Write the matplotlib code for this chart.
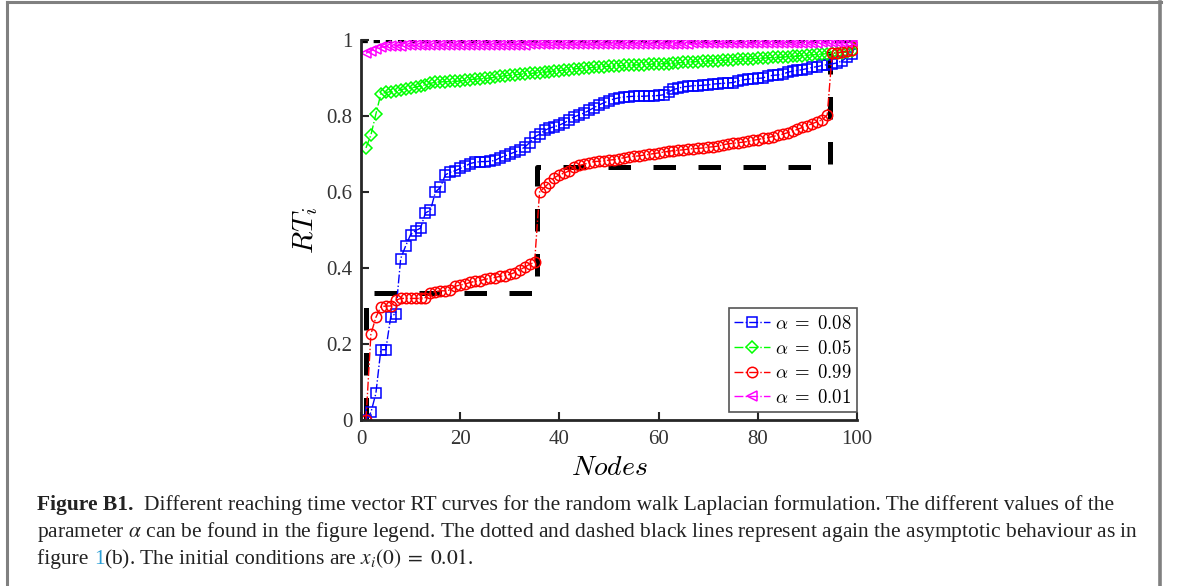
import numpy as np
import matplotlib.pyplot as plt
from matplotlib.lines import Line2D

nodes = np.arange(1, 101)

rt_008 = [0.0, 0.02, 0.07, 0.185, 0.185, 0.272, 0.28, 0.425, 0.458, 0.488,
          0.498, 0.505, 0.545, 0.552, 0.6, 0.612, 0.645, 0.652, 0.656, 0.662,
          0.668, 0.675, 0.678, 0.68, 0.68, 0.681, 0.683, 0.69, 0.695, 0.7,
          0.705, 0.71, 0.718, 0.73, 0.745, 0.752, 0.762, 0.768, 0.772, 0.776,
          0.782, 0.79, 0.798, 0.803, 0.808, 0.815, 0.822, 0.829, 0.835, 0.84,
          0.845, 0.848, 0.85, 0.851, 0.852, 0.852, 0.852, 0.853, 0.853, 0.854,
          0.856, 0.863, 0.87, 0.873, 0.877, 0.878, 0.88, 0.88, 0.881, 0.882,
          0.884, 0.885, 0.886, 0.887, 0.888, 0.892, 0.895, 0.897, 0.898, 0.899,
          0.9, 0.905, 0.907, 0.908, 0.91, 0.915, 0.918, 0.92, 0.922, 0.925,
          0.928, 0.93, 0.933, 0.935, 0.937, 0.94, 0.945, 0.955, 0.962, 1.0]

rt_005 = [0.716, 0.75, 0.805, 0.858, 0.862, 0.864, 0.866, 0.869, 0.872, 0.874,
          0.876, 0.879, 0.882, 0.886, 0.889, 0.89, 0.89, 0.891, 0.891, 0.892,
          0.894, 0.896, 0.897, 0.898, 0.899, 0.9, 0.902, 0.904, 0.906, 0.907,
          0.908, 0.91, 0.911, 0.912, 0.913, 0.914, 0.915, 0.917, 0.918, 0.919,
          0.921, 0.922, 0.924, 0.925, 0.926, 0.927, 0.928, 0.929, 0.93, 0.931,
          0.932, 0.932, 0.933, 0.934, 0.934, 0.935, 0.935, 0.936, 0.937, 0.937,
          0.938, 0.938, 0.939, 0.94, 0.941, 0.942, 0.943, 0.943, 0.944, 0.945,
          0.945, 0.946, 0.947, 0.947, 0.948, 0.949, 0.95, 0.95, 0.951, 0.952,
          0.952, 0.953, 0.954, 0.954, 0.955, 0.956, 0.957, 0.958, 0.959, 0.96,
          0.961, 0.962, 0.963, 0.964, 0.965, 0.966, 0.967, 0.968, 0.97, 1.0]

rt_099 = [0.0, 0.226, 0.27, 0.298, 0.3, 0.3, 0.315, 0.32, 0.32, 0.32,
          0.32, 0.32, 0.322, 0.335, 0.338, 0.34, 0.34, 0.342, 0.352, 0.355,
          0.358, 0.362, 0.365, 0.367, 0.37, 0.373, 0.375, 0.378, 0.38, 0.383,
          0.388, 0.395, 0.402, 0.41, 0.415, 0.6, 0.612, 0.625, 0.638, 0.645,
          0.65, 0.656, 0.665, 0.67, 0.673, 0.677, 0.68, 0.681, 0.682, 0.684,
          0.685, 0.688, 0.69, 0.693, 0.694, 0.695, 0.697, 0.699, 0.701, 0.703,
          0.705, 0.707, 0.709, 0.71, 0.711, 0.713, 0.714, 0.715, 0.716, 0.718,
          0.719, 0.721, 0.724, 0.727, 0.728, 0.73, 0.731, 0.733, 0.736, 0.738,
          0.741, 0.743, 0.746, 0.749, 0.752, 0.756, 0.76, 0.765, 0.77, 0.775,
          0.78, 0.785, 0.79, 0.803, 0.965, 0.967, 0.968, 0.97, 0.975, 1.0]

rt_001 = [0.965, 0.972, 0.977, 0.981, 0.983, 0.984, 0.985, 0.985, 0.986, 0.986,
          0.986, 0.986, 0.986, 0.987, 0.987, 0.987, 0.987, 0.987, 0.987, 0.987,
          0.987, 0.988, 0.988, 0.988, 0.988, 0.988, 0.988, 0.988, 0.988, 0.988,
          0.988, 0.988, 0.988, 0.989, 0.989, 0.989, 0.989, 0.989, 0.989, 0.989,
          0.989, 0.989, 0.989, 0.989, 0.989, 0.989, 0.989, 0.989, 0.989, 0.99,
          0.99, 0.99, 0.99, 0.99, 0.99, 0.99, 0.99, 0.99, 0.99, 0.99,
          0.99, 0.99, 0.99, 0.99, 0.99, 0.99, 0.991, 0.991, 0.991, 0.991,
          0.991, 0.991, 0.991, 0.991, 0.991, 0.991, 0.991, 0.991, 0.992, 0.992,
          0.992, 0.992, 0.992, 0.992, 0.992, 0.992, 0.992, 0.992, 0.993, 0.993,
          0.993, 0.993, 0.994, 0.994, 0.994, 0.995, 0.995, 0.996, 0.997, 1.0]

# asymptotic behaviour (black reference lines)
dash_x = [1, 1, 35.5, 35.5, 94.5, 94.5, 100]
dash_y = [0, 1/3, 1/3, 2/3, 2/3, 1, 1]
dot_x = [0, 100]
dot_y = [1, 1]

series = [(rt_008, 'b', 's', r'$\alpha\;=\;0.08$'),
          (rt_005, '#00ff00', 'D', r'$\alpha\;=\;0.05$'),
          (rt_099, 'r', 'o', r'$\alpha\;=\;0.99$'),
          (rt_001, '#ff00ff', '<', r'$\alpha\;=\;0.01$')]

xticks = [0, 20, 40, 60, 80, 100]
yticks = [0, 0.2, 0.4, 0.6, 0.8, 1]
ytick_labels = ['0', '0.2', '0.4', '0.6', '0.8', '1']

plt.rcParams['mathtext.fontset'] = 'cm'

W, H = 1179, 586
fig = plt.figure(figsize=(W / 100, H / 100), dpi=100)
ax = fig.add_axes([361 / W, 1 - 420 / H, 496 / W, 380 / H])

ax.plot(dot_x, dot_y, color='k', lw=3.8, dashes=(1.2, 1.1), zorder=1)
ax.plot(dash_x, dash_y, color='k', lw=3.6, dashes=(4.5, 4.5), zorder=1)

for vals, col, mk, lab in series:
    ms = 7.5 if mk != 'D' else 6
    ax.plot(nodes, vals, linestyle='-.', color=col, lw=1, marker=mk,
            markersize=ms, markerfacecolor='none', markeredgewidth=1.1,
            label=lab, zorder=2)

ax.set_xlim(0, 100)
ax.set_ylim(0, 1)
ax.set_xticks(xticks)
ax.set_yticks(yticks)
ax.set_yticklabels(ytick_labels)
for s in ['top', 'right']:
    ax.spines[s].set_visible(False)
for s in ['left', 'bottom']:
    ax.spines[s].set_linewidth(2)
    ax.spines[s].set_color('#262626')
ax.tick_params(direction='in', length=6, width=1.5, labelsize=15,
               colors='#262626')
ax.tick_params(axis='x', pad=7)
ax.tick_params(axis='y', pad=6)
for lbl in ax.get_xticklabels() + ax.get_yticklabels():
    lbl.set_fontfamily('Liberation Serif')
    lbl.set_color('#333333')

ax.set_xlabel(r'$Nodes$', fontsize=20, labelpad=3)
ax.set_ylabel(r'$RT_i$', fontsize=21, labelpad=5)

leg = ax.legend(loc='lower right', bbox_to_anchor=(1.0, 0.02), borderaxespad=0,
                fontsize=13.5, numpoints=1, handlelength=1.9, handletextpad=0.25,
                labelspacing=0.3, borderpad=0.3, fancybox=False,
                edgecolor='#555555', framealpha=1)
leg.get_frame().set_linewidth(1.2)

# page frame
gray = '#808080'
fig.add_artist(Line2D([7 / W, 7 / W], [0, 1 - 2 / H], color=gray, lw=2.2,
                      transform=fig.transFigure))
fig.add_artist(Line2D([7 / W, 1161 / W], [1 - 2 / H, 1 - 2 / H], color=gray,
                      lw=2.2, transform=fig.transFigure))
fig.add_artist(Line2D([1160 / W, 1160 / W], [0, 1 - 2 / H], color=gray, lw=2.6,
                      transform=fig.transFigure))

# caption
renderer = fig.canvas.get_renderer()
cap = dict(family='Liberation Serif', fontsize=15.5, color='#222222',
           math_fontfamily='stix', va='baseline')


def width(s, **kw):
    t = fig.text(0, 0, s + '|', **kw)
    w1 = t.get_window_extent(renderer).width
    t.set_text('|')
    w2 = t.get_window_extent(renderer).width
    t.remove()
    return (w1 - w2) / W


def runs(x, y, parts):
    for s, kw in parts:
        p = dict(cap)
        p.update(kw)
        fig.text(x, y, s, **p)
        x += width(s, **p)


x0 = 37 / W
runs(x0, 1 - 510 / H, [('Figure B1.  ', dict(weight='bold')),
                       ('Different reaching time vector RT curves for the random walk '
                        'Laplacian formulation. The different values of the', {})])
runs(x0, 1 - 537 / H, [(r'parameter $\alpha$ can be found in the figure legend. The dotted '
                        'and dashed black lines represent again the asymptotic behaviour as in', {})])
runs(x0, 1 - 564 / H, [('figure ', {}), ('1', dict(color='#2a9fd6')),
                       (r'(b). The initial conditions are $x_i(0)\;=\;0.01$.', {})])

fig.savefig('out.png', dpi=100)
